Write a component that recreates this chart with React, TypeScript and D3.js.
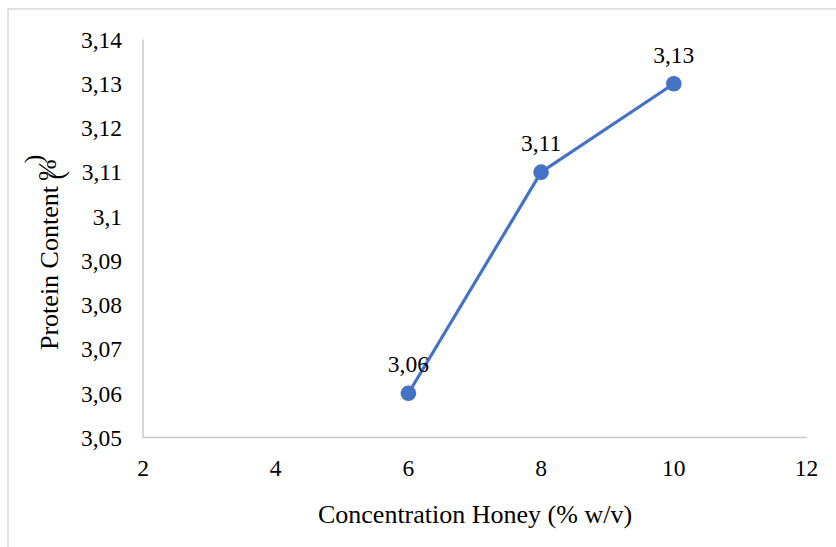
import React from "react";
import * as d3 from "d3";

const concentrations = [6, 8, 10];
const proteinValues = [3.06, 3.11, 3.13];
const xTicks = [2, 4, 6, 8, 10, 12];
const yTicks = [3.05, 3.06, 3.07, 3.08, 3.09, 3.1, 3.11, 3.12, 3.13, 3.14];
const xTitle = "Concentration Honey (% w/v)";
const yTitleMain = "Protein Content ";

const W = 836;
const H = 547;
const fmt = (v: number) => String(+v.toFixed(2)).replace(".", ",");

export default function App() {
  const x = d3.scaleLinear().domain([2, 12]).range([143, 806.5]);
  const y = d3.scaleLinear().domain([3.05, 3.14]).range([437.5, 39.5]);
  const pts = concentrations.map((c, i) => [x(c), y(proteinValues[i])] as [number, number]);
  const line = d3.line()(pts) || "";
  const font = "Liberation Serif, Times New Roman, DejaVu Serif, serif";
  return (
    <svg
      width={W}
      height={H}
      style={{ position: "absolute", left: 0, top: 0, background: "#fff", fontFamily: font }}
    >
      <line x1={8} y1={9} x2={W} y2={9} stroke="#d9d9d9" strokeWidth={1.5} />
      <line x1={8} y1={9} x2={8} y2={H} stroke="#d9d9d9" strokeWidth={1.5} />
      <line x1={x(2)} y1={y(3.14)} x2={x(2)} y2={y(3.05)} stroke="#c8c8c8" strokeWidth={1.5} />
      <line x1={x(2)} y1={y(3.05)} x2={x(12)} y2={y(3.05)} stroke="#c8c8c8" strokeWidth={1.5} />
      {yTicks.map((t) => (
        <text key={t} x={122} y={y(t)} dy="0.35em" textAnchor="end" fontSize={23.5} fill="#000">
          {fmt(t)}
        </text>
      ))}
      {xTicks.map((t) => (
        <text key={t} x={x(t)} y={476} textAnchor="middle" fontSize={23.5} fill="#000">
          {t}
        </text>
      ))}
      <path d={line} fill="none" stroke="#4472C4" strokeWidth={3.2} />
      {pts.map((p, i) => (
        <circle key={i} cx={p[0]} cy={p[1]} r={7.8} fill="#4472C4" />
      ))}
      {pts.map((p, i) => (
        <text key={"l" + i} x={p[0]} y={p[1] - 21} textAnchor="middle" fontSize={23.5} fill="#000">
          {fmt(proteinValues[i])}
        </text>
      ))}
      <text x={475} y={523} textAnchor="middle" fontSize={26} fill="#000">
        {xTitle}
      </text>
      <text
        transform={`translate(58, 350) rotate(-90)`}
        textAnchor="start"
        fontSize={26}
        fill="#000"
      >
        {yTitleMain}
        <tspan dy={6}>(</tspan>
        <tspan dx={-10} dy={-8}>%</tspan>
        <tspan dx={-4} dy={-14}>)</tspan>
      </text>
    </svg>
  );
}
